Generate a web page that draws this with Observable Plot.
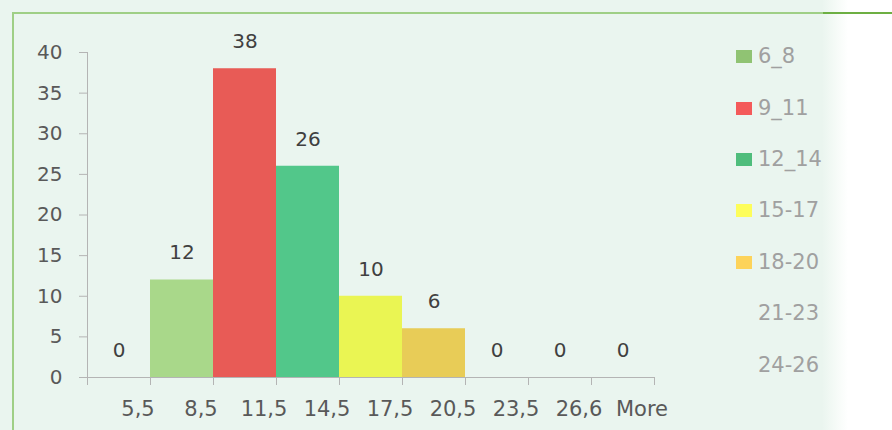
<!DOCTYPE html>
<html>
<head>
<meta charset="utf-8">
<script src="https://cdn.jsdelivr.net/npm/d3@7"></script>
<script src="https://cdn.jsdelivr.net/npm/@observablehq/plot@0.6"></script>
<style>
html, body { margin: 0; padding: 0; background: #ffffff; }
#wrap {
  position: relative; width: 892px; height: 430px; overflow: hidden;
  background: linear-gradient(to right, #eaf5ef 0px, #eaf5ef 822px, #f4faf6 834px, #ffffff 848px);
  font-family: "DejaVu Sans", sans-serif;
}
#frameTop { position: absolute; left: 12px; top: 12px; width: 811px; height: 2px; background: #9fcf86; }
#frameTop2 { position: absolute; left: 823px; top: 12px; width: 69px; height: 2px; background: #6daf43; }
#frameLeft { position: absolute; left: 12px; top: 12px; width: 2px; height: 418px; background: #9fcf86; }
#chart { position: absolute; left: 0; top: 0; }
#legend { position: absolute; left: 736px; top: 31px; }
.item { display: flex; align-items: center; height: 51.4px; }
.sw { width: 16px; height: 13px; margin-right: 6px; }
.lab { font-size: 21px; color: #a0a0a0; line-height: 1; }
</style>
</head>
<body>
<div id="wrap">
  <div id="frameTop"></div>
  <div id="frameTop2"></div>
  <div id="frameLeft"></div>
  <div id="chart"></div>
  <div id="legend"></div>
</div>
<script>
// ---- data ----
const categories = ["5,5", "8,5", "11,5", "14,5", "17,5", "20,5", "23,5", "26,6", "More"];
const frequencies = [0, 12, 38, 26, 10, 6, 0, 0, 0];
const barFills = [null, "#a9d88a", "#e85b56", "#52c78a", "#eaf553", "#e8cc57", null, null, null];
const yTicks = [0, 5, 10, 15, 20, 25, 30, 35, 40];
const legendLabels = ["6_8", "9_11", "12_14", "15-17", "18-20", "21-23", "24-26"];
const legendColors = ["#90c373", "#f45a5a", "#4fbd7c", "#fdfd5a", "#fdd35a", null, null];

const data = categories.map((c, i) => ({ i, cat: c, v: frequencies[i], fill: barFills[i] }));
const boundaries = d3.range(0, categories.length + 1);
const centers = categories.map((c, i) => i + 0.5);

const axisGrey = "#b4b4b4";

const chart = Plot.plot({
  width: 892,
  height: 430,
  marginLeft: 87,
  marginRight: 238,
  marginTop: 52,
  marginBottom: 53,
  x: { type: "linear", domain: [0, categories.length] },
  y: { domain: [0, 40] },
  color: { type: "identity" },
  style: { background: "transparent", fontFamily: "DejaVu Sans", fontSize: "20px", color: "#595959", overflow: "visible" },
  marks: [
    Plot.rectY(data.filter(d => d.v > 0), { x1: d => d.i, x2: d => d.i + 1, y1: 0, y2: "v", fill: "fill" }),
    Plot.ruleX([0], { y1: 0, y2: 40, stroke: axisGrey }),
    Plot.ruleY([0], { stroke: axisGrey }),
    Plot.axisY({ ticks: yTicks, tickSize: 8, tickPadding: 17, stroke: axisGrey, fill: "#595959", fontSize: 20, label: null }),
    Plot.axisX({ ticks: boundaries, tickFormat: () => "", tickSize: 8, stroke: axisGrey, label: null }),
    Plot.axisX({ ticks: centers, tickFormat: t => categories[Math.floor(t)], tickSize: 0, tickPadding: 24, dx: 19, fill: "#595959", fontSize: 21, label: null }),
    Plot.text(data, { x: d => d.i + 0.5, y: "v", text: d => String(d.v), dy: -27, fill: "#404040", fontSize: 20 })
  ]
});
document.getElementById("chart").appendChild(chart);

// ---- legend ----
const legend = document.getElementById("legend");
legendLabels.forEach((lab, k) => {
  const item = document.createElement("div");
  item.className = "item";
  const sw = document.createElement("div");
  sw.className = "sw";
  sw.style.background = legendColors[k] || "transparent";
  const tx = document.createElement("div");
  tx.className = "lab";
  tx.textContent = lab;
  item.appendChild(sw);
  item.appendChild(tx);
  legend.appendChild(item);
});
</script>
</body>
</html>
